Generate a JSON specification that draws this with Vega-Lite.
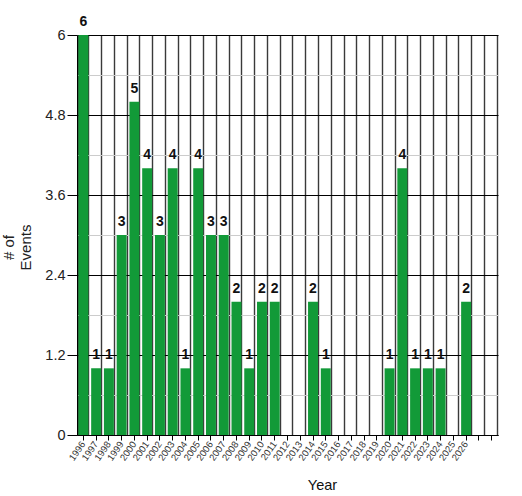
{
  "$schema": "https://vega.github.io/schema/vega-lite/v6.json",
  "width": 421,
  "height": 400,
  "autosize": {"type": "none"},
  "padding": {"left": 77, "top": 35, "right": 24, "bottom": 61},
  "background": "white",
  "config": {
    "view": {"stroke": null},
    "font": "Liberation Sans",
    "axis": {"labelFont": "Liberation Sans", "titleFont": "Liberation Sans"}
  },
  "data": {
    "values": [
      {"year": 1996, "count": 6}, {"year": 1997, "count": 1}, {"year": 1998, "count": 1},
      {"year": 1999, "count": 3}, {"year": 2000, "count": 5}, {"year": 2001, "count": 4},
      {"year": 2002, "count": 3}, {"year": 2003, "count": 4}, {"year": 2004, "count": 1},
      {"year": 2005, "count": 4}, {"year": 2006, "count": 3}, {"year": 2007, "count": 3},
      {"year": 2008, "count": 2}, {"year": 2009, "count": 1}, {"year": 2010, "count": 2},
      {"year": 2011, "count": 2}, {"year": 2012, "count": 0}, {"year": 2013, "count": 0},
      {"year": 2014, "count": 2}, {"year": 2015, "count": 1}, {"year": 2016, "count": 0},
      {"year": 2017, "count": 0}, {"year": 2018, "count": 0}, {"year": 2019, "count": 0},
      {"year": 2020, "count": 1}, {"year": 2021, "count": 4}, {"year": 2022, "count": 1},
      {"year": 2023, "count": 1}, {"year": 2024, "count": 1}, {"year": 2025, "count": 0},
      {"year": 2026, "count": 2}, {"year": 2027, "count": 0}, {"year": 2028, "count": 0}
    ]
  },
  "layer": [
    {
      "mark": {"type": "bar", "color": "#129a38"},
      "encoding": {
        "x": {
          "field": "year", "type": "ordinal",
          "scale": {"paddingInner": 0.22, "paddingOuter": 0.11},
          "axis": {
            "orient": "bottom", "tickBand": "extent", "grid": true,
            "gridColor": "#3a3a3a", "gridWidth": 1.4, "gridOpacity": 1,
            "labels": false, "ticks": false, "domain": false, "title": null
          }
        },
        "y": {
          "field": "count", "type": "quantitative",
          "scale": {"domain": [0, 6], "nice": false, "zero": true},
          "axis": {
            "orient": "left", "values": [0.6, 1.8, 3.0, 4.2, 5.4],
            "grid": true, "gridColor": "#cccccc", "gridOpacity": 1,
            "labels": false, "ticks": false, "domain": false, "title": null
          }
        }
      }
    },
    {
      "transform": [{"filter": "datum.count > 0"}],
      "mark": {"type": "text", "baseline": "bottom", "dy": -6, "fontSize": 14, "fontWeight": "bold", "color": "#111"},
      "encoding": {
        "x": {
          "field": "year", "type": "ordinal",
          "axis": {
            "orient": "bottom", "grid": false,
            "labelAngle": -55, "labelFontSize": 9.5, "labelColor": "#333",
            "labelExpr": "datum.value > 2026 ? '' : datum.label",
            "ticks": true, "tickSize": 5, "tickColor": "#000",
            "domain": true, "domainColor": "#000",
            "title": "Year", "titleFontSize": 14.5, "titleFontWeight": "normal",
            "titleColor": "#111", "titleX": 245, "titleY": 43, "titleBaseline": "top"
          }
        },
        "y": {
          "field": "count", "type": "quantitative",
          "axis": {
            "orient": "left", "values": [0, 1.2, 2.4, 3.6, 4.8, 6],
            "format": ".1~f",
            "grid": true, "gridColor": "#000", "gridOpacity": 1,
            "labelFontSize": 14.5, "labelColor": "#222", "labelPadding": 2,
            "ticks": true, "tickSize": 10, "tickColor": "#000",
            "domain": true, "domainColor": "#000",
            "title": ["# of", "Events"], "titleFontSize": 15, "titleFontWeight": "normal",
            "titleColor": "#222", "titleY": 212, "titlePadding": 11
          }
        },
        "text": {"field": "count", "type": "quantitative"}
      }
    }
  ],
  "resolve": {"axis": {"x": "independent", "y": "independent"}}
}
